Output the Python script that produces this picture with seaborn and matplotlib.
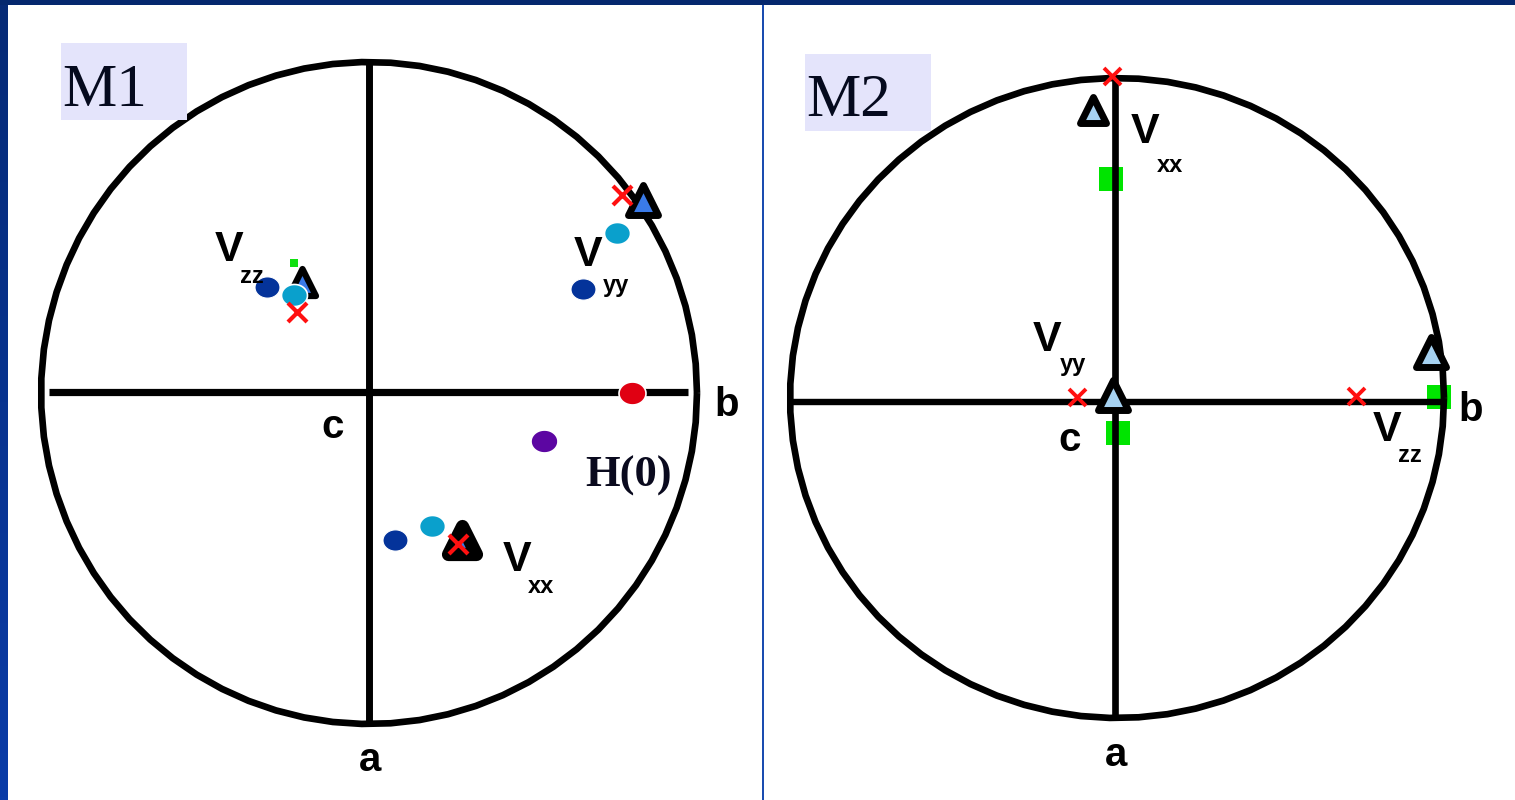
import numpy as np
import matplotlib
matplotlib.use("Agg")
import matplotlib.pyplot as plt
from matplotlib.patches import Rectangle
from matplotlib.path import Path
import seaborn as sns

sns.set_theme(style="white")
plt.rcParams['font.family'] = ['Liberation Sans', 'DejaVu Sans']

W, H = 1515, 800

# ---------------- M1 : positions on the unit projection circle ----------------
m1_dark_x = [-0.311, 0.652, 0.079]
m1_dark_y = [0.320, 0.314, -0.444]
m1_cyan_x = [-0.229, 0.756, 0.192]
m1_cyan_y = [0.296, 0.483, -0.402]
m1_tri_x = [-0.203, 0.835, 0.283]
m1_tri_y = [0.335, 0.582, -0.444]
m1_cross_x = [-0.220, 0.771, 0.271]
m1_cross_y = [0.245, 0.598, -0.456]
m1_green_x = [-0.229]
m1_green_y = [0.392]
m1_field_x = [0.802, 0.534]
m1_field_y = [0.000, -0.145]
m1_field_colors = ["#e00012", "#5c06a2"]

# ---------------- M2 ----------------
m2_tri_x = [-0.072, -0.012, 0.960]
m2_tri_y = [0.900, 0.008, 0.144]
m2_cross_x = [-0.015, -0.122, 0.731]
m2_cross_y = [1.006, 0.003, 0.006]
m2_green_x = [-0.018, 0.003, 0.985]
m2_green_y = [0.684, -0.109, 0.003]

# axis-letter and tensor labels: (text, x, y, size)
m1_labels = [("V", -0.427, 0.432, 31), ("zz", -0.357, 0.353, 17),
             ("V", 0.668, 0.417, 31), ("yy", 0.753, 0.326, 17),
             ("V", 0.451, -0.505, 31), ("xx", 0.524, -0.585, 17),
             ("c", -0.110, -0.103, 29), ("b", 1.091, -0.036, 29),
             ("a", 0.003, -1.109, 29)]
m2_labels = [("V", 0.086, 0.831, 31), ("xx", 0.162, 0.725, 17),
             ("V", -0.214, 0.181, 31), ("yy", -0.135, 0.106, 17),
             ("V", 0.826, -0.100, 31), ("zz", 0.896, -0.181, 17),
             ("c", -0.144, -0.131, 29), ("b", 1.080, -0.038, 29),
             ("a", -0.003, -1.116, 29)]

PX = 100 / 72.0  # pixels per point

t = np.linspace(0, 2 * np.pi, 72)
oval = Path(np.c_[np.cos(t), 0.85 * np.sin(t)], closed=False)


def pts(px):
    return (px / PX) ** 2


def dots(ax, xs, ys, **kw):
    sns.scatterplot(x=xs, y=ys, ax=ax, legend=False, **kw)


fig = plt.figure(figsize=(W / 100, H / 100), dpi=100)
fig.patch.set_facecolor("white")


def panel(x0, x1, cx, cy, rx, ry):
    ax = fig.add_axes([x0 / W, 0, (x1 - x0) / W, (H - 5) / H])
    ax.set_xlim((x0 - cx) / rx, (x1 - cx) / rx)
    ax.set_ylim((cy - H) / ry, (cy - 5) / ry)
    ax.axis("off")
    ax.plot(np.cos(t), np.sin(t), color="black", lw=4.8, zorder=2,
            solid_capstyle="butt")
    return ax


# ---------------- M1 panel ----------------
ax1 = panel(8, 763, 369, 393, 328, 331)
ax1.plot([-0.975, 0.973], [0.004, 0.004], color="black", lw=5.2, zorder=2,
         solid_capstyle="butt")
ax1.plot([0, 0], [-1, 1], color="black", lw=5.0, zorder=2, solid_capstyle="butt")
dots(ax1, m1_green_x, m1_green_y, marker="s", s=pts(8), color="#10e010",
     linewidth=0, zorder=2.5)
for x, y, sz, lw in zip(m1_tri_x, m1_tri_y, [27, 30, 28], [4.5, 5.0, 9.5]):
    dots(ax1, [x], [y], marker="^", s=pts(sz), color="#3a7ae8",
         edgecolor="black", linewidth=lw, zorder=3)
dots(ax1, m1_dark_x, m1_dark_y, marker=oval, s=pts(25), color="#04339a",
     edgecolor="white", linewidth=0.8, zorder=4)
dots(ax1, m1_cyan_x, m1_cyan_y, marker=oval, s=pts(26), color="#0aa0cc",
     edgecolor="white", linewidth=1.2, zorder=4)
for x, y, c in zip(m1_field_x, m1_field_y, m1_field_colors):
    dots(ax1, [x], [y], marker=oval, s=pts(27), color=c,
         edgecolor="white", linewidth=1.2, zorder=4)
ax1.scatter(m1_cross_x, m1_cross_y, marker="x", s=pts(19), color="#ff1010",
            linewidths=3.0, zorder=5)
for txt, x, y, fs in m1_labels:
    ax1.text(x, y, txt, fontsize=fs, fontweight="bold", ha="center",
             va="center", color="black", zorder=6)
ax1.text(0.790, -0.250, "H(0)", fontsize=32, fontweight="bold",
         family="Liberation Serif", ha="center", va="center",
         color="#0a0a1e", zorder=6)

# ---------------- M2 panel ----------------
ax2 = panel(764, 1515, 1117, 398, 327, 320)
dots(ax2, m2_green_x, m2_green_y, marker="s", s=pts(24), color="#00e400",
     linewidth=0, zorder=1)
ax2.plot([-1, 0.99], [-0.012, -0.012], color="black", lw=4.6, zorder=2,
         solid_capstyle="butt")
ax2.plot([-0.006, -0.006], [-1, 1], color="black", lw=4.8, zorder=2,
         solid_capstyle="butt")
for x, y, sz in zip(m2_tri_x, m2_tri_y, [26, 30, 30]):
    dots(ax2, [x], [y], marker="^", s=pts(sz), color="#a6d2f2",
         edgecolor="black", linewidth=5.0, zorder=3)
ax2.scatter(m2_cross_x, m2_cross_y, marker="x", s=pts(17), color="#ff1010",
            linewidths=2.8, zorder=5)
for txt, x, y, fs in m2_labels:
    ax2.text(x, y, txt, fontsize=fs, fontweight="bold", ha="center",
             va="center", color="black", zorder=6)

# ---------------- title boxes ----------------
for name, bx, by, base in [("M1", 61, 43, 106), ("M2", 805, 54, 116)]:
    fig.add_artist(Rectangle((bx / W, 1 - (by + 77) / H), 126 / W, 77 / H,
                             transform=fig.transFigure, color="#e4e4fb",
                             lw=0, zorder=5))
    fig.text((bx + 1) / W, 1 - base / H, name, fontsize=44,
             family="Liberation Serif", color="#050a1e", ha="left",
             va="baseline", zorder=6)

# ---------------- frame ----------------
fig.add_artist(Rectangle((0, 1 - 5 / H), 1, 5 / H, transform=fig.transFigure,
                         color="#05286e", lw=0, zorder=10))
bar = fig.add_axes([0, 0, 8 / W, 1 - 5 / H])
bar.imshow(np.linspace(0, 1, 256)[:, None], aspect="auto",
           cmap=matplotlib.colors.LinearSegmentedColormap.from_list(
               "edge", ["#062a76", "#0a3ca8"]))
bar.axis("off")
fig.add_artist(Rectangle((762 / W, 0), 2 / W, 1 - 5 / H,
                         transform=fig.transFigure, color="#1a4cb0",
                         lw=0, zorder=10))

fig.savefig("out.png", dpi=100)
